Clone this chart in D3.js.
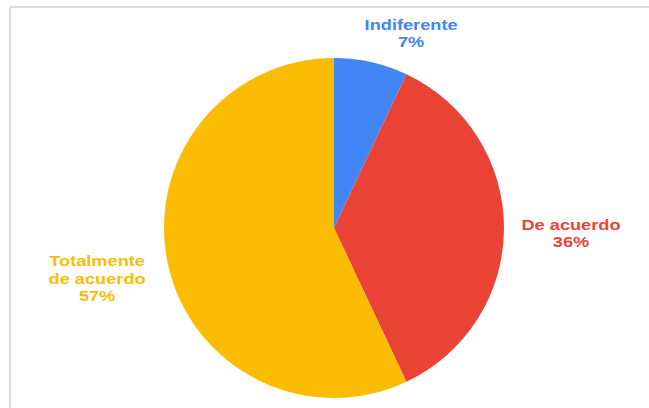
<!DOCTYPE html>
<html>
<head>
<meta charset="utf-8">
<script src="https://cdn.jsdelivr.net/npm/d3@7"></script>
<style>
  html, body { margin: 0; padding: 0; background: #fff; }
  svg { display: block; }
</style>
</head>
<body>
<svg id="chart" width="649" height="408"></svg>
<script>
// Survey answers and their share of responses (%)
const categories = ["Indiferente", "De acuerdo", "Totalmente de acuerdo"];
const values = [7, 36, 57];
const colors = ["#4285F4", "#EA4335", "#FBBC04"];
// Label lines for each slice
const labelLines = [["Indiferente"], ["De acuerdo"], ["Totalmente", "de acuerdo"]];

const W = 649, H = 408;
const cx = 334, cy = 228, radius = 170;

const svg = d3.select("#chart");

// Frame lines
svg.append("line").attr("x1", 10).attr("x2", W).attr("y1", 7).attr("y2", 7)
  .attr("stroke", "#dcdcdc").attr("stroke-width", 2);
svg.append("line").attr("x1", 10).attr("x2", 10).attr("y1", 7).attr("y2", H)
  .attr("stroke", "#dcdcdc").attr("stroke-width", 2);

const data = categories.map((c, i) => ({ category: c, value: values[i], color: colors[i], lines: labelLines[i] }));

const pie = d3.pie().sort(null).value(d => d.value);
const arc = d3.arc().innerRadius(0).outerRadius(radius);
const arcs = pie(data);

const g = svg.append("g").attr("transform", `translate(${cx},${cy})`);
g.selectAll("path.slice")
  .data(arcs)
  .join("path")
  .attr("class", "slice")
  .attr("d", arc)
  .attr("fill", d => d.data.color);

// Outside labels: anchored at the rim point on each slice's bisector, then nudged clear of the pie
const labelShift = [
  { dx: 40, dy: -25 },
  { dx: 67, dy: 9 },
  { dx: -71, dy: 17 }
];
const lineH = 17.5;

arcs.forEach((a, i) => {
  const mid = (a.startAngle + a.endAngle) / 2;
  const x = cx + Math.sin(mid) * radius + labelShift[i].dx;
  const y = cy - Math.cos(mid) * radius + labelShift[i].dy;
  const lines = a.data.lines.concat([a.data.value + "%"]);
  const top = y - (lines.length - 1) * lineH / 2 + 1.5;
  const lg = svg.append("g")
    .attr("transform", `translate(${x},${top}) scale(1.3,1)`);
  lg.selectAll("text")
    .data(lines)
    .join("text")
    .attr("x", 0)
    .attr("y", (d, k) => k * lineH)
    .attr("text-anchor", "middle")
    .attr("font-family", "Liberation Sans, Arial, sans-serif")
    .attr("font-weight", "bold")
    .attr("font-size", 14)
    .attr("fill", a.data.color)
    .text(d => d);
});
</script>
</body>
</html>
